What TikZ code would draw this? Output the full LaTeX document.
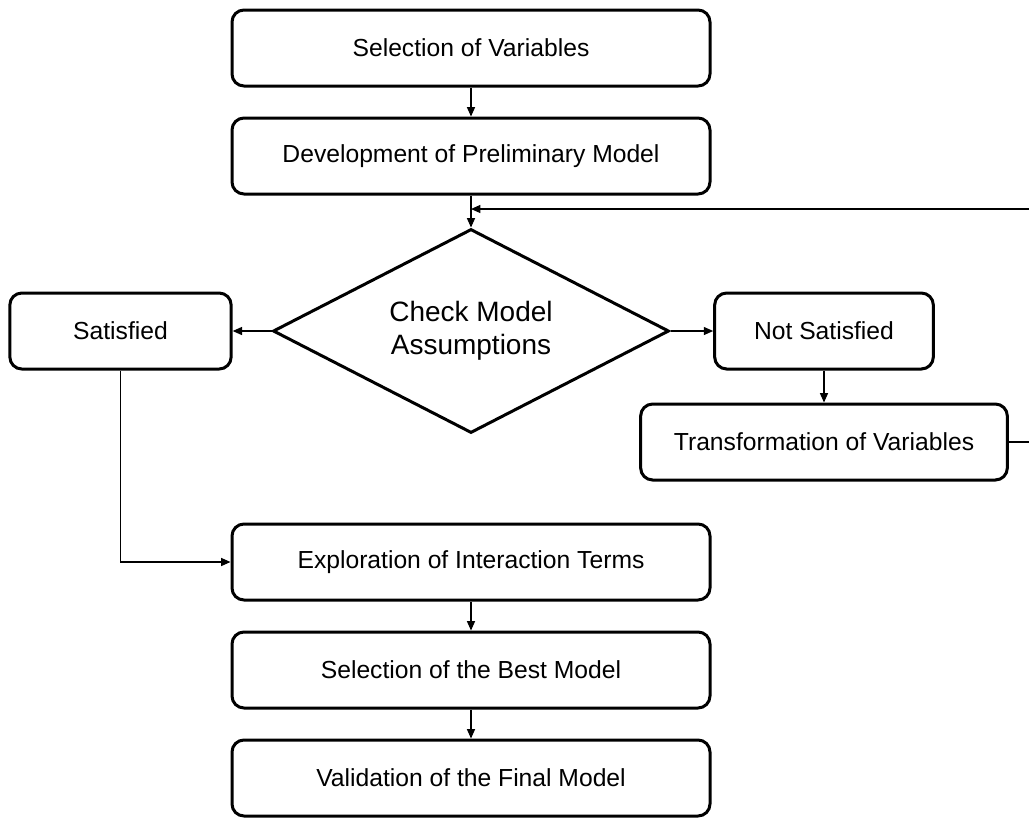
\documentclass[tikz,border=0pt]{standalone}
\usepackage{fontspec}
\setmainfont{Liberation Sans}
\usetikzlibrary{shapes.geometric,arrows.meta}

\begin{document}
\begin{tikzpicture}[x=0.75pt,y=0.75pt,yscale=-1,xscale=1,
    stage/.style={draw,rounded corners=9pt,line width=2.25pt,minimum width=358.5pt,minimum height=57pt,inner sep=0pt,font=\fontsize{18.5}{22}\selectfont},
    check/.style={draw,diamond,aspect=2,line width=2.25pt,minimum width=297pt,minimum height=153pt,inner sep=0pt,align=center,font=\fontsize{21}{25}\selectfont},
    link/.style={line width=0.9pt,-{Triangle[length=7pt,width=6pt]}}]
        %set diagram at 1029 x 819, the feedback loop runs off the right edge
        \useasboundingbox (0,0) rectangle (1029,819);
        \clip (0,0) rectangle (1029,819);

        % Main column
        \node[stage] (selvar) at (471,48) {Selection of Variables};
        \node[stage] (prelim) at (471,156) {Development of Preliminary Model};
        \node[check] (check) at (471,331) {Check Model\\Assumptions};
        \node[stage] (explore) at (471,562) {Exploration of Interaction Terms};
        \node[stage] (best) at (471,670) {Selection of the Best Model};
        \node[stage] (valid) at (471,778) {Validation of the Final Model};

        % Side branches
        \node[stage,minimum width=166pt] (sat) at (120.5,331) {Satisfied};
        \node[stage,minimum width=164pt] (notsat) at (824,331) {Not Satisfied};
        \node[stage,minimum width=275pt] (transf) at (824,442) {Transformation of Variables};

        % Arrows
        \coordinate (loopin) at (prelim.south |- 0,209);
        \draw[link] (selvar) -- (prelim);
        \draw[link] (prelim) -- (check);
        \draw[link] (check.west) -- (sat.east);
        \draw[link] (check.east) -- (notsat.west);
        \draw[link] (notsat) -- (transf);
        \draw[link] (transf.east) -- ++(40,0) |- (loopin);
        \draw[link] (sat.south) |- (explore.west);
        \draw[link] (explore) -- (best);
        \draw[link] (best) -- (valid);
\end{tikzpicture}
\end{document}
